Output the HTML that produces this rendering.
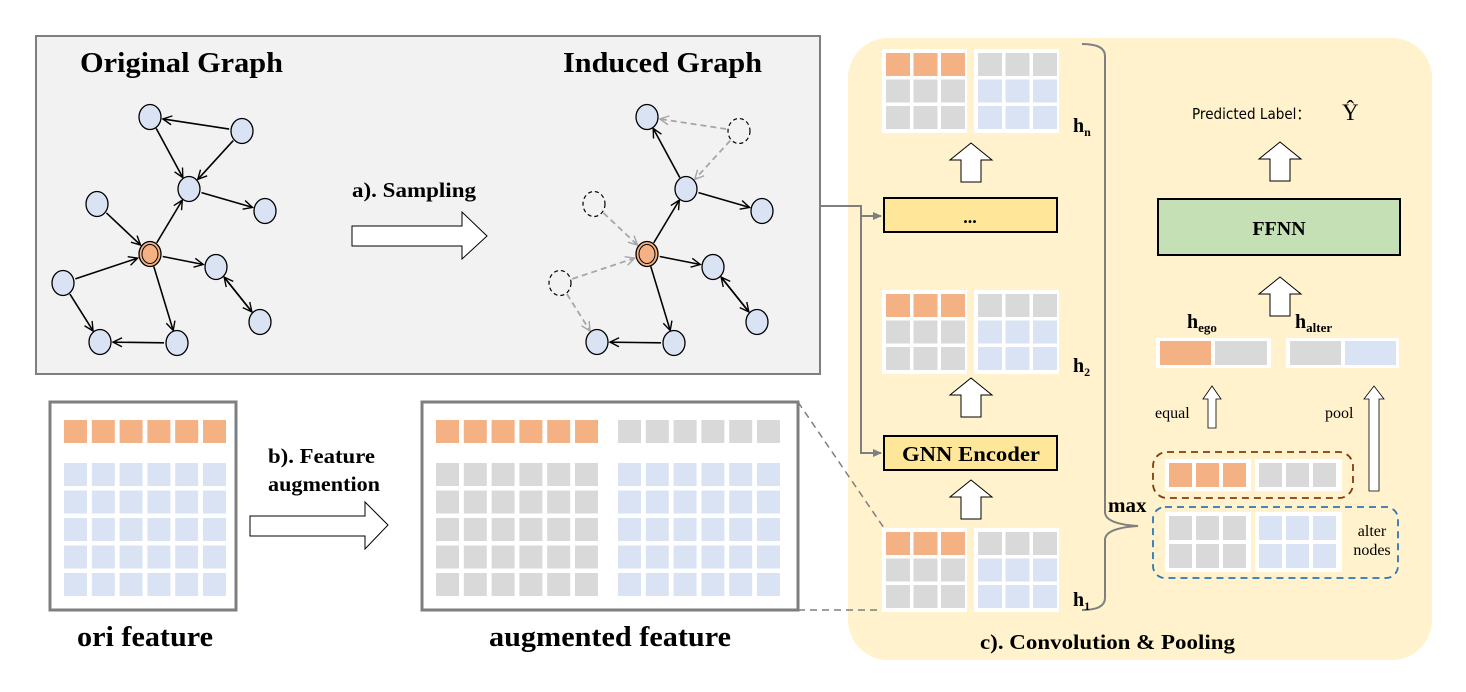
<!DOCTYPE html>
<html><head><meta charset="utf-8"><style>
html,body{margin:0;padding:0;background:#fff;}
svg{display:block;}
.t{font-family:"Liberation Serif",serif;font-weight:bold;fill:#000;}
.s{font-family:"Liberation Serif",serif;fill:#000;}
</style></head><body>
<svg id="g" width="1466" height="692" viewBox="0 0 1466 692" xmlns="http://www.w3.org/2000/svg">
<defs>
<marker id="ab" markerWidth="12" markerHeight="12" refX="10" refY="6" orient="auto" markerUnits="userSpaceOnUse"><path d="M1,1.5 L10,6 L1,10.5" fill="none" stroke="#000" stroke-width="1.4"/></marker>
<marker id="ag" markerWidth="12" markerHeight="12" refX="10" refY="6" orient="auto" markerUnits="userSpaceOnUse"><path d="M1,1.5 L10,6 L1,10.5" fill="none" stroke="#a6a6a6" stroke-width="1.4"/></marker>
<marker id="ar" markerWidth="10" markerHeight="10" refX="8" refY="5" orient="auto" markerUnits="userSpaceOnUse"><path d="M0,1 L9,5 L0,9 Z" fill="#7f7f7f"/></marker>
</defs>
<rect x="36" y="36" width="784" height="338" fill="#f2f2f2" stroke="#7f7f7f" stroke-width="2"/>
<rect x="848" y="38" width="584" height="622" rx="40" fill="#fff2cc"/>
<text class="t" x="80" y="72" font-size="29" textLength="203" lengthAdjust="spacingAndGlyphs">Original Graph</text>
<text class="t" x="563" y="72" font-size="29" textLength="199" lengthAdjust="spacingAndGlyphs">Induced Graph</text>
<text class="t" x="352" y="197" font-size="21" textLength="124" lengthAdjust="spacingAndGlyphs">a). Sampling</text>
<path d="M352,226 L462,226 L462,212 L487,236 L462,259 L462,246 L352,246 Z" fill="#fff" stroke="#000" stroke-width="1"/>
<g id="graphs"></g>
<rect x="50" y="402" width="186" height="208" fill="#fff" stroke="#7f7f7f" stroke-width="3"/>
<rect x="422" y="402" width="376" height="208" fill="#fff" stroke="#7f7f7f" stroke-width="3"/>
<g id="cells"></g>
<text class="t" x="268" y="463" font-size="21" textLength="107" lengthAdjust="spacingAndGlyphs">b). Feature</text>
<text class="t" x="268" y="491" font-size="21" textLength="112" lengthAdjust="spacingAndGlyphs">augmention</text>
<path d="M250,516 L365,516 L365,502 L388,525 L365,549 L365,536 L250,536 Z" fill="#fff" stroke="#000" stroke-width="1"/>
<text class="t" x="77" y="646" font-size="28" textLength="136" lengthAdjust="spacingAndGlyphs">ori feature</text>
<text class="t" x="489" y="646" font-size="28" textLength="242" lengthAdjust="spacingAndGlyphs">augmented feature</text>
<path d="M798,402 L884,528" stroke="#7f7f7f" stroke-width="1.5" stroke-dasharray="7,5" fill="none"/>
<path d="M798,610 L884,610" stroke="#7f7f7f" stroke-width="1.5" stroke-dasharray="7,5" fill="none"/>
<path d="M820,206 L861,206 L861,453 L881,453" stroke="#7f7f7f" stroke-width="2" fill="none" marker-end="url(#ar)"/>
<path d="M861,216 L881,216" stroke="#7f7f7f" stroke-width="2" fill="none" marker-end="url(#ar)"/>
<rect x="884" y="198" width="173" height="34" fill="#ffe699" stroke="#000" stroke-width="2"/>
<text class="t" x="970" y="223" font-size="18" text-anchor="middle">...</text>
<rect x="884" y="436" width="173" height="34" fill="#ffe699" stroke="#000" stroke-width="2"/>
<text class="t" x="902" y="461" font-size="21" textLength="138" lengthAdjust="spacingAndGlyphs">GNN Encoder</text>
<g id="blk"></g>
<path d="M1082,44 Q1105,44 1105,56 L1105,512 Q1105,524 1138,526 Q1105,528 1105,540 L1105,598 Q1105,610 1082,610" fill="none" stroke="#7f7f7f" stroke-width="2"/>
<text class="t" x="1108" y="512" font-size="21">max</text>
<text class="t" x="1073" y="132" font-size="20">h<tspan font-size="12" dy="4">n</tspan></text>
<text class="t" x="1073" y="372" font-size="20">h<tspan font-size="12" dy="4">2</tspan></text>
<text class="t" x="1073" y="606" font-size="20">h<tspan font-size="12" dy="4">1</tspan></text>
<text x="1192" y="119" font-size="15" font-family="'DejaVu Sans','Liberation Sans',sans-serif" fill="#000" textLength="118" lengthAdjust="spacingAndGlyphs">Predicted Label：</text>
<text class="s" x="1342" y="120" font-size="23">Ŷ</text>
<rect x="1158" y="199" width="242" height="56" fill="#c5e0b4" stroke="#000" stroke-width="2"/>
<text class="t" x="1279" y="235" font-size="20" text-anchor="middle">FFNN</text>
<text class="t" x="1187" y="328" font-size="20">h<tspan font-size="13" dy="4">ego</tspan></text>
<text class="t" x="1295" y="328" font-size="20">h<tspan font-size="13" dy="4">alter</tspan></text>
<text class="s" x="1155" y="418" font-size="16">equal</text>
<text class="s" x="1325" y="418" font-size="16">pool</text>
<path d="M1208,428 L1208,399 L1203,399 L1212,386 L1221,399 L1216,399 L1216,428 Z" fill="#fff" stroke="#000" stroke-width="0.8"/>
<path d="M1369,491 L1369,399 L1364,399 L1374,386 L1384,399 L1379,399 L1379,491 Z" fill="#fff" stroke="#000" stroke-width="0.8"/>
<rect x="1153" y="452" width="200" height="46" rx="14" fill="none" stroke="#843c0c" stroke-width="1.8" stroke-dasharray="7,5"/>
<rect x="1153" y="507" width="245" height="71" rx="12" fill="none" stroke="#2e75b6" stroke-width="1.8" stroke-dasharray="7,5"/>
<text class="s" x="1372" y="536" font-size="16" text-anchor="middle">alter</text>
<text class="s" x="1372" y="555" font-size="16" text-anchor="middle">nodes</text>
<text class="t" x="980" y="649" font-size="21" textLength="255" lengthAdjust="spacingAndGlyphs">c). Convolution &amp; Pooling</text>
</svg>
<script>
var NS="http://www.w3.org/2000/svg";
function el(p,t,a){var e=document.createElementNS(NS,t);for(var k in a)e.setAttribute(k,a[k]);document.getElementById(p).appendChild(e);return e;}
var O="#f4b183",G="#d9d9d9",B="#dae3f3";
function graph(dx,dashed){
 var N={1:[150,117],2:[242,131],3:[189,189],4:[265,211],5:[97,204],e:[150,254],6:[216,267],7:[63,283],8:[260,322],9:[100,342],10:[177,343]};
 for(var k in N)N[k]=[N[k][0]+dx,N[k][1]];
 function edge(a,b,d,both){var A=N[a],Bp=N[b];var vx=Bp[0]-A[0],vy=Bp[1]-A[1],L=Math.hypot(vx,vy);var ux=vx/L,uy=vy/L;
  var o={x1:A[0]+ux*13,y1:A[1]+uy*13,x2:Bp[0]-ux*13,y2:Bp[1]-uy*13,stroke:d?"#a6a6a6":"#000","stroke-width":d?1.8:1.6,"marker-end":d?"url(#ag)":"url(#ab)"};
  if(d)o["stroke-dasharray"]="6,4";
  el("graphs","line",o); if(both){el("graphs","line",{x1:o.x2,y1:o.y2,x2:o.x1,y2:o.y1,stroke:"#000","stroke-width":1.6,"marker-end":"url(#ab)"});}
 }
 if(!dashed){edge(2,1);edge(1,3);edge(2,3);}else{edge(3,1);edge(2,1,1);edge(2,3,1);}
 edge(3,4);edge(5,"e",dashed);edge("e",3);edge(7,"e",dashed);edge("e",6);edge(6,8,0,1);edge(7,9,dashed);edge("e",10);edge(10,9);
 for(var k in N){var d=dashed&&(k=="2"||k=="5"||k=="7");
  if(k=="e"){el("graphs","ellipse",{cx:N[k][0],cy:N[k][1],rx:11,ry:12.5,fill:"#f4b183",stroke:"#000","stroke-width":1.3});el("graphs","ellipse",{cx:N[k][0],cy:N[k][1],rx:8,ry:9.5,fill:"none",stroke:"#000","stroke-width":1});}
  else if(d)el("graphs","ellipse",{cx:N[k][0],cy:N[k][1],rx:11,ry:12.5,fill:"none",stroke:"#000","stroke-width":1.2,"stroke-dasharray":"4,3"});
  else el("graphs","ellipse",{cx:N[k][0],cy:N[k][1],rx:11,ry:12.5,fill:"#dae3f3",stroke:"#000","stroke-width":1.3});}
}
graph(0,false);graph(497,true);
function row(g,x0,y,n,w,h,gap,c){for(var i=0;i<n;i++)el(g,"rect",{x:x0+i*(w+gap),y:y,width:w,height:h,fill:c});}
row("cells",64,420,6,23,23,4.8,O);
for(var r=0;r<5;r++)row("cells",64,463+r*27.5,6,23,23,4.8,B);
row("cells",436,420,6,23,23,4.8,O);row("cells",618,420,6,23,23,4.8,G);
for(var r=0;r<5;r++){row("cells",436,463+r*27.5,6,23,23,4.8,G);row("cells",618,463+r*27.5,6,23,23,4.8,B);}
function mat(y){el("blk","rect",{x:882,y:y,width:85,height:84,fill:"#fff"});el("blk","rect",{x:974,y:y,width:85,height:84,fill:"#fff"});
 for(var r=0;r<3;r++){row("blk",886,y+4+r*26.5,3,24,23,3.5,r==0?O:G);row("blk",978,y+4+r*26.5,3,24,23,3.5,r==0?G:B);}}
mat(49);mat(290);mat(528);
function up(cx,y){el("blk","path",{d:"M"+(cx-10)+","+(y+39)+" L"+(cx-10)+","+(y+17)+" L"+(cx-21)+","+(y+17)+" L"+cx+","+y+" L"+(cx+21)+","+(y+17)+" L"+(cx+10)+","+(y+17)+" L"+(cx+10)+","+(y+39)+" Z",fill:"#fff",stroke:"#000","stroke-width":1});}
up(971,143);up(971,378);up(971,480);up(1280,142);up(1280,277);
el("blk","rect",{x:1156,y:338,width:115,height:30,fill:"#fff"});el("blk","rect",{x:1160,y:341,width:51,height:24,fill:O});el("blk","rect",{x:1215,y:341,width:52,height:24,fill:G});
el("blk","rect",{x:1286,y:338,width:113,height:30,fill:"#fff"});el("blk","rect",{x:1290,y:341,width:51,height:24,fill:G});el("blk","rect",{x:1345,y:341,width:51,height:24,fill:B});
el("blk","rect",{x:1165,y:459,width:86,height:32,fill:"#fff"});el("blk","rect",{x:1255,y:459,width:87,height:32,fill:"#fff"});
row("blk",1169,463,3,23,24,4,O);row("blk",1259,463,3,23,24,4,G);
el("blk","rect",{x:1165,y:512,width:86,height:60,fill:"#fff"});el("blk","rect",{x:1255,y:512,width:87,height:60,fill:"#fff"});
for(var r=0;r<2;r++){row("blk",1169,516+r*28,3,23,24,4,G);row("blk",1259,516+r*28,3,23,24,4,B);}
</script>
</body></html>
